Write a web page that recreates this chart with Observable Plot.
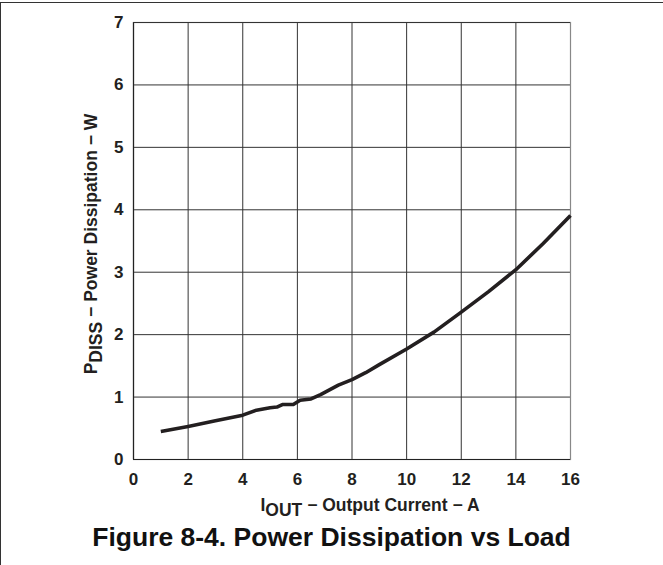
<!DOCTYPE html>
<html>
<head>
<meta charset="utf-8">
<script src="https://cdn.jsdelivr.net/npm/d3@7"></script>
<script src="https://cdn.jsdelivr.net/npm/@observablehq/plot@0.6"></script>
<style>
  html, body { margin: 0; padding: 0; background: #fff; }
  #wrap { position: relative; width: 663px; height: 565px; overflow: hidden; }
  #frame { position: absolute; left: 0; top: 2px; width: 663px; height: 563px; box-sizing: border-box;
           border-top: 1.6px solid #333; border-left: 1.6px solid #333; }
  #chart { position: absolute; left: 0; top: 0; }
  #title { position: absolute; left: 0; width: 663px; top: 522px; text-align: center;
           font-family: "Liberation Sans", Arial, sans-serif; font-weight: bold; font-size: 26.5px;
           color: #111; }
</style>
</head>
<body>
<div id="wrap">
  <div id="frame"></div>
  <div id="chart"></div>
  <div id="title">Figure 8-4. Power Dissipation vs Load</div>
</div>
<script>
// Output current (A)
const current = [1, 2, 3, 4, 4.5, 5, 5.25, 5.45, 5.85, 6.1, 6.5, 6.85, 7.5, 8, 8.5, 9, 10, 11, 12, 13, 14, 15, 16];
// Power dissipation (W)
const power = [0.45, 0.53, 0.62, 0.71, 0.79, 0.83, 0.84, 0.88, 0.88, 0.95, 0.97, 1.04, 1.19, 1.28, 1.39, 1.52, 1.77, 2.04, 2.36, 2.69, 3.04, 3.46, 3.91];
const xTicks = [0, 2, 4, 6, 8, 10, 12, 14, 16];
const yTicks = [0, 1, 2, 3, 4, 5, 6, 7];

const data = current.map((c, i) => ({current: c, power: power[i]}));

const chart = Plot.plot({
  width: 663,
  height: 510,
  marginLeft: 133,
  marginRight: 93,
  marginTop: 22,
  marginBottom: 51,
  x: {domain: [0, 16], label: null},
  y: {domain: [0, 7], label: null},
  style: {fontFamily: "'Liberation Sans', Arial, sans-serif", fontSize: "17px", fontWeight: "bold", color: "#231f20", background: "transparent", overflow: "visible"},
  marks: [
    Plot.gridX(xTicks, {stroke: "#333", strokeOpacity: 1, strokeWidth: 1}),
    Plot.gridY(yTicks, {stroke: "#333", strokeOpacity: 1, strokeWidth: 1}),
    Plot.frame({stroke: "#888", strokeWidth: 1.2}),
    Plot.ruleX([0], {stroke: "#222", strokeWidth: 1.2}),
    Plot.ruleY([0], {stroke: "#222", strokeWidth: 1.2}),
    Plot.ruleY([7], {stroke: "#333", strokeWidth: 1}),
    Plot.line(data, {x: "current", y: "power", stroke: "#231f20", strokeWidth: 3.6, strokeLinejoin: "round", strokeLinecap: "butt"}),
    Plot.axisX(xTicks, {tickSize: 0, tickPadding: 13, tickFormat: "d", fill: "#231f20"}),
    Plot.axisY(yTicks, {tickSize: 0, tickPadding: 10, tickFormat: "d", fill: "#231f20"})
  ]
});
document.getElementById("chart").appendChild(chart);

const svg = d3.select(chart);
const fam = "'Liberation Sans', Arial, sans-serif";

// X axis label with subscript
const xl = svg.append("text")
  .attr("x", 370).attr("y", 510.5)
  .attr("text-anchor", "middle")
  .attr("font-family", fam).attr("font-weight", "bold").attr("font-size", "17.5px")
  .attr("fill", "#231f20");
xl.append("tspan").text("I");
xl.append("tspan").attr("dy", 5).text("OUT");
xl.append("tspan").attr("dy", -5).text(" \u2212 Output Current \u2212 A");

// Y axis label with subscript
const yl = svg.append("text")
  .attr("transform", "translate(97,244) rotate(-90)")
  .attr("text-anchor", "middle")
  .attr("font-family", fam).attr("font-weight", "bold").attr("font-size", "17.5px")
  .attr("fill", "#231f20");
yl.append("tspan").text("P");
yl.append("tspan").attr("dy", 5).text("DISS");
yl.append("tspan").attr("dy", -5).text(" \u2212 Power Dissipation \u2212 W");
</script>
</body>
</html>
